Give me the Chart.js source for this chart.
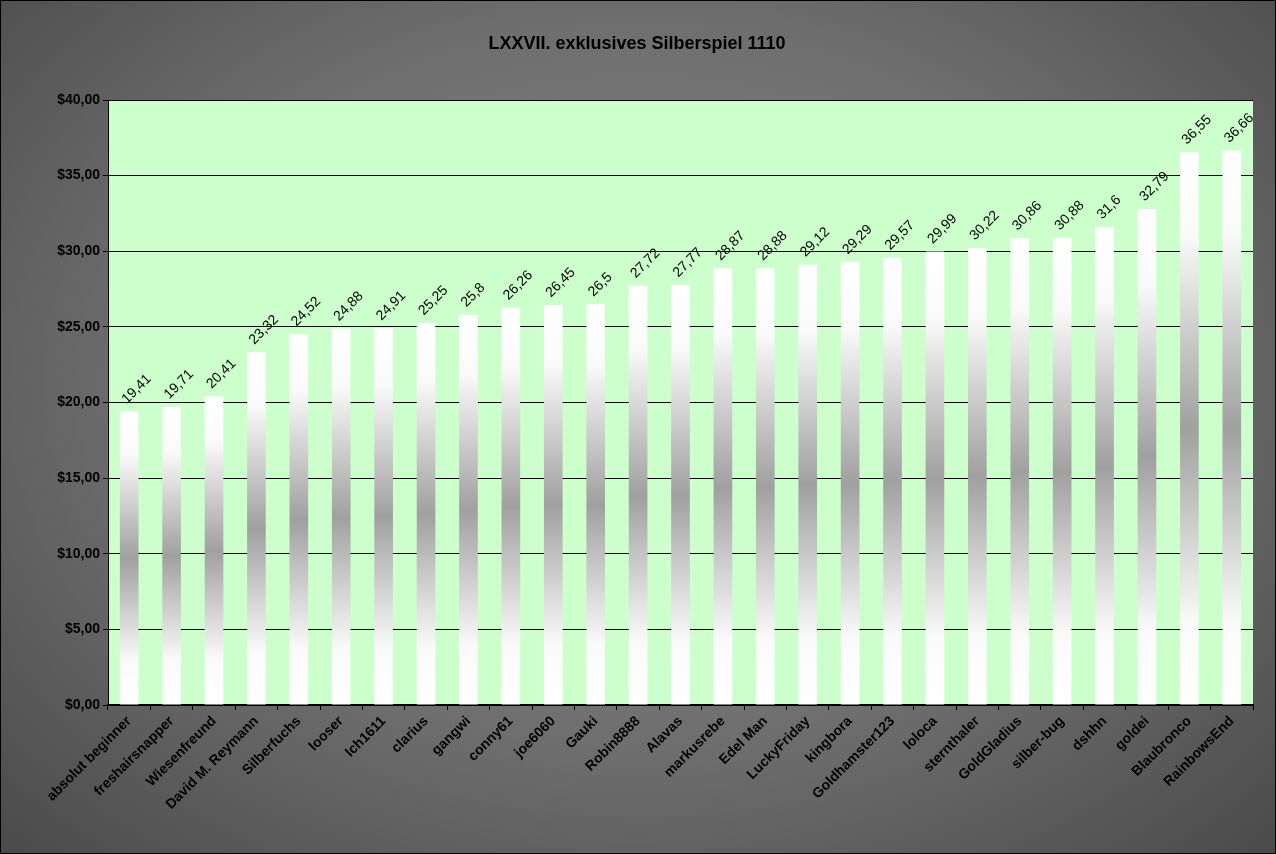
<!DOCTYPE html>
<html>
<head>
<meta charset="utf-8">
<script src="https://cdn.jsdelivr.net/npm/chart.js@4"></script>
<style>
  html, body { margin: 0; padding: 0; }
  #wrap {
    width: 1274px; height: 852px; border: 1px solid #000;
    background: radial-gradient(ellipse at 50% 45%, #8a8a8a 0%, #6e6e6e 55%, #4a4a4a 100%);
  }
</style>
</head>
<body>
<div id="wrap"><canvas id="c" width="1274" height="852"></canvas></div>
<script>
const players = ['absolut beginner', 'freshairsnapper', 'Wiesenfreund', 'David M. Reymann', 'Silberfuchs',
  'looser', 'Ich1611', 'clarius', 'gangwi', 'conny61', 'joe6060', 'Gauki', 'Robin8888', 'Alavas',
  'markusrebe', 'Edel Man', 'LuckyFriday', 'kingbora', 'Goldhamster123', 'loloca', 'sternthaler',
  'GoldGladius', 'silber-bug', 'dshhn', 'goldei', 'Blaubronco', 'RainbowsEnd'];
const winnings = [19.41, 19.71, 20.41, 23.32, 24.52, 24.88, 24.91, 25.25, 25.8, 26.26, 26.45, 26.5, 27.72,
  27.77, 28.87, 28.88, 29.12, 29.29, 29.57, 29.99, 30.22, 30.86, 30.88, 31.6, 32.79, 36.55, 36.66];
const valueLabels = ['19,41', '19,71', '20,41', '23,32', '24,52', '24,88', '24,91', '25,25', '25,8', '26,26',
  '26,45', '26,5', '27,72', '27,77', '28,87', '28,88', '29,12', '29,29', '29,57', '29,99', '30,22',
  '30,86', '30,88', '31,6', '32,79', '36,55', '36,66'];
const chartTitle = 'LXXVII. exklusives Silberspiel 1110';

// green plot area, title and rotated value labels
const frame = {
  id: 'frame',
  beforeDraw(chart) {
    const { ctx, chartArea: a } = chart;
    ctx.save();
    ctx.fillStyle = '#ccffcc';
    ctx.fillRect(a.left, a.top, a.right - a.left, a.bottom - a.top);
    ctx.fillStyle = '#000';
    ctx.font = 'bold 18px Arial, "Liberation Sans"';
    ctx.textAlign = 'center';
    ctx.fillText(chartTitle, 636, 48);
    ctx.restore();
  },
  afterDatasetsDraw(chart) {
    const { ctx } = chart;
    const meta = chart.getDatasetMeta(0);
    ctx.save();
    ctx.fillStyle = '#000';
    ctx.font = '14px Arial, "Liberation Sans"';
    meta.data.forEach((bar, i) => {
      ctx.save();
      ctx.translate(bar.x - 5, bar.y - 10);
      ctx.rotate(-Math.PI / 4);
      ctx.textAlign = 'left';
      ctx.textBaseline = 'middle';
      ctx.fillText(valueLabels[i], 0, 0);
      ctx.restore();
    });
    ctx.restore();
  },
};

new Chart(document.getElementById('c'), {
  type: 'bar',
  data: {
    labels: players,
    datasets: [{
      data: winnings,
      barPercentage: 0.44,
      categoryPercentage: 1,
      backgroundColor: (ctx) => {
        const chart = ctx.chart;
        const y = chart.scales.y;
        if (!y || ctx.dataIndex === undefined) return '#fff';
        const top = y.getPixelForValue(winnings[ctx.dataIndex]);
        const bottom = y.getPixelForValue(0);
        if (!isFinite(top) || !isFinite(bottom) || top === bottom) return '#fff';
        const g = chart.ctx.createLinearGradient(0, top, 0, bottom);
        g.addColorStop(0, '#ffffff');
        g.addColorStop(0.15, '#fafafa');
        g.addColorStop(0.5, '#a0a0a0');
        g.addColorStop(0.85, '#fafafa');
        g.addColorStop(1, '#ffffff');
        return g;
      },
    }],
  },
  options: {
    responsive: false,
    animation: false,
    layout: { padding: { left: 8, right: 22, top: 99, bottom: 4 } },
    plugins: { legend: { display: false }, tooltip: { enabled: false } },
    scales: {
      x: {
        afterFit: (s) => { s.height = 144; },
        grid: { offset: true, drawOnChartArea: false, color: '#000', tickLength: 5 },
        border: { color: '#000', width: 2 },
        ticks: {
          color: '#000', maxRotation: 45, minRotation: 45, autoSkip: false,
          font: { family: 'Arial, "Liberation Sans"', size: 14, weight: 'bold' },
        },
      },
      y: {
        min: 0, max: 40,
        afterFit: (s) => { s.width = 99; },
        grid: { color: '#000', tickLength: 5 },
        border: { color: '#000', width: 1 },
        ticks: {
          stepSize: 5, color: '#000',
          font: { family: 'Arial, "Liberation Sans"', size: 14, weight: 'bold' },
          callback: (v) => '$' + v.toFixed(2).replace('.', ','),
        },
      },
    },
  },
  plugins: [frame],
});
</script>
</body>
</html>
